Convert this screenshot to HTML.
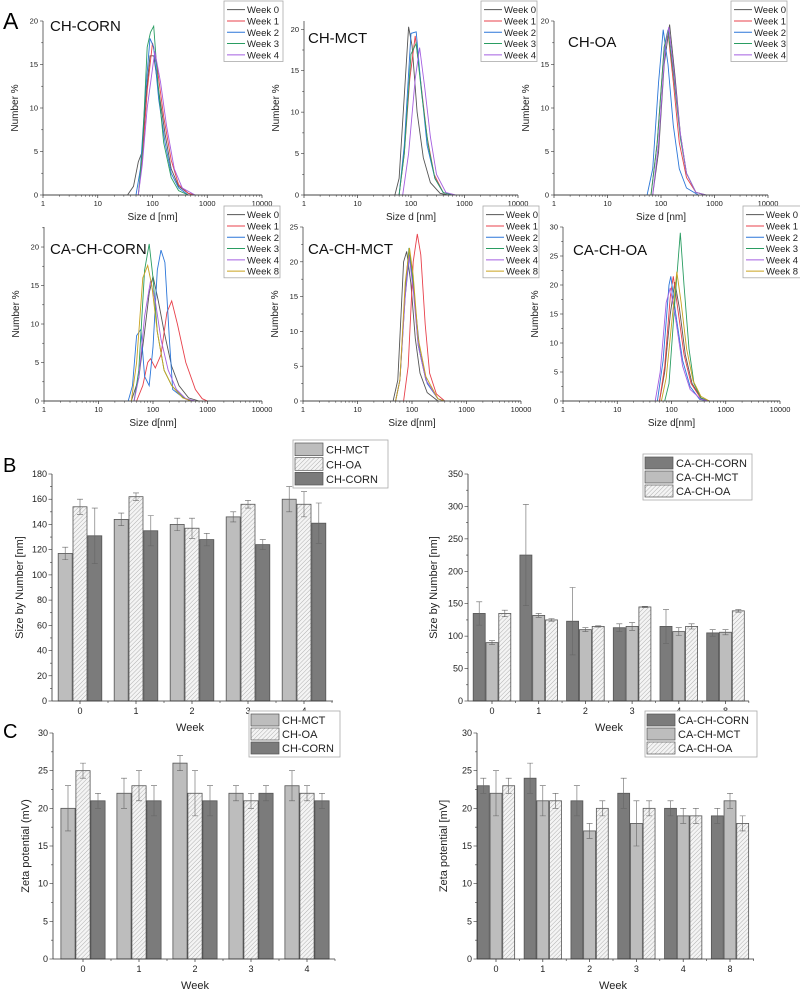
<!DOCTYPE html>
<html><head><meta charset="utf-8"><style>
body{margin:0;background:#fff}
svg{display:block;font-family:"Liberation Sans",sans-serif}
</style></head><body>
<svg id="fig" width="800" height="994" viewBox="0 0 800 994" xmlns="http://www.w3.org/2000/svg">
<defs>
<pattern id="hatch" patternUnits="userSpaceOnUse" width="3" height="3" patternTransform="rotate(45)">
<rect width="3" height="3" fill="#f4f4f4"/><line x1="0" y1="0" x2="0" y2="3" stroke="#b0b0b0" stroke-width="1"/>
</pattern>
</defs>
<text x="3" y="29" font-size="23">A</text>
<text x="3" y="472" font-size="20">B</text>
<text x="3" y="738" font-size="20">C</text>
<g id="root"></g>
</svg>
<script>
// ---------- Distribution data (size d [nm], number %) ----------
const weeksTop = ["Week 0","Week 1","Week 2","Week 3","Week 4"];
const weeksBottom = ["Week 0","Week 1","Week 2","Week 3","Week 4","Week 8"];
const chCorn = [
 [[35,0],[45,1],[55,3.8],[65,5],[75,11],[90,16],[105,16],[130,12],[170,7],[220,3],[300,1],[450,0.2],[600,0]],
 [[55,0],[65,4],[80,12],[100,17.5],[120,15],[160,9],[220,4],[300,1.2],[450,0.2],[600,0]],
 [[50,0],[60,3],[75,12],[90,18],[105,17],[130,11],[170,6],[220,2.5],[300,0.8],[450,0]],
 [[55,0],[65,5],[80,17],[92,18.7],[105,19.4],[125,13],[160,6],[220,2],[300,0.5],[450,0]],
 [[55,0],[65,3.5],[80,10],[110,16.5],[140,13],[180,8],[250,3],[350,0.8],[600,0]]];
const chMct = [
 [[50,0],[60,2],[75,12],[90,20.3],[105,18],[130,10],[170,4.5],[230,1.5],[350,0.2],[500,0]],
 [[60,0],[75,5],[95,14],[120,19.2],[150,14],[200,7],[270,2.5],[400,0.3],[600,0]],
 [[60,0],[75,6],[100,19.5],[125,19.7],[150,14],[200,6],[280,2],[400,0.3],[600,0]],
 [[60,0],[75,5],[100,17],[125,18.3],[160,12],[210,6],[280,2],[400,0.3],[600,0]],
 [[70,0],[90,5],[120,14],[145,17.8],[180,13],[230,7],[300,2.5],[450,0.3],[700,0]]];
const chOa = [
 [[70,0],[90,5],[115,15],[145,19.6],[180,14],[230,7],[300,2.5],[450,0.3],[700,0]],
 [[65,0],[85,6],[115,17],[135,18.7],[170,13],[220,6],[300,2],[450,0.3],[700,0]],
 [[55,0],[70,3],[90,13],[110,19],[135,15],[170,8],[220,3],[300,0.8],[500,0]],
 [[65,0],[85,6],[115,17],[135,19],[170,14],[230,6.5],[300,2.5],[450,0.3],[700,0]],
 [[70,0],[90,6],[120,17],[140,19.3],[175,14],[230,7],[300,2.5],[450,0.3],[700,0]]];
const caCorn = [
 [[40,0],[55,3],[70,9],[85,14],[100,16.2],[125,13],[160,9],[220,4.5],[300,2],[450,0.4],[700,0]],
 [[50,0],[65,2],[80,5],[90,5.5],[110,4.3],[140,6],[180,11.5],[220,13],[280,10],[400,5],[600,1.5],[800,0.3],[1000,0]],
 [[35,0],[42,2],[50,8.5],[60,9.3],[70,3.2],[85,2],[100,7],[120,17],[140,19.6],[165,18],[200,8],[230,1.5],[350,0.5],[500,0]],
 [[45,0],[55,4],[70,17],[85,20.4],[100,16],[120,9],[160,4],[220,2],[350,0.5],[500,0]],
 [[45,0],[55,3],[70,11],[90,15.6],[110,13],[140,8],[190,4],[270,1.5],[400,0.3],[600,0]],
 [[40,0],[50,5],[65,16],[80,17.6],[95,15],[120,9],[160,4],[220,2],[350,0.4],[500,0]]];
const caMct = [
 [[45,0],[55,3],[70,20],[80,21.5],[95,17],[115,9],[140,4],[190,1.2],[300,0]],
 [[70,0],[85,5],[105,20],[125,24],[145,21],[175,11],[210,4],[280,1],[400,0]],
 [[50,0],[60,3],[75,15],[90,21],[110,15],[140,7],[190,2.5],[300,0.3],[400,0]],
 [[50,0],[60,3],[75,16],[88,22],[105,17],[130,8],[180,3],[300,0.3],[400,0]],
 [[50,0],[60,3],[75,15],[88,21],[105,16],[130,8],[180,3],[300,0.3],[400,0]],
 [[50,0],[60,3],[75,17],[90,22],[105,18],[130,9],[180,3.5],[300,0.3],[400,0]]];
const caOa = [
 [[60,0],[75,5],[95,15],[115,20.5],[140,16],[180,8],[240,3],[350,0.5],[500,0]],
 [[60,0],[75,6],[95,18],[108,21.5],[130,16],[170,8],[230,3],[350,0.4],[500,0]],
 [[55,0],[70,7],[90,20],[97,21.5],[120,15],[160,7],[220,2.5],[330,0.3],[500,0]],
 [[75,0],[90,3],[115,17],[145,29],[170,20],[210,9],[260,3],[350,0.5],[500,0]],
 [[50,0],[62,5],[80,17],[95,19.5],[120,14],[160,6],[220,2],[350,0.3],[500,0]],
 [[65,0],[80,4],[105,15],[125,22.3],[150,17],[190,9],[250,3.5],[350,0.8],[500,0]]];
const xTickLabels = ["1","10","100","1000","10000"];

// ---------- Bar data ----------
const weeksB1 = ["0","1","2","3","4"];
const weeksB2 = ["0","1","2","3","4","8"];
const sizeChMct = [117,144,140,146,160], sizeChMctErr = [5,5,5,4,10];
const sizeChOa = [154,162,137,156,156], sizeChOaErr = [6,3,8,3,10];
const sizeChCorn = [131,135,128,124,141], sizeChCornErr = [22,12,5,4,16];
const sizeCaCorn = [135,225,123,113,115,105], sizeCaCornErr = [18,78,52,6,26,5];
const sizeCaMct = [90,132,110,115,107,106], sizeCaMctErr = [3,3,3,6,6,4];
const sizeCaOa = [135,125,115,145,115,139], sizeCaOaErr = [5,2,1,1,4,2];
const zetaChMct = [20,22,26,22,23], zetaChMctErr = [3,2,1,1,2];
const zetaChOa = [25,23,22,21,22], zetaChOaErr = [1,2,3,1,1];
const zetaChCorn = [21,21,21,22,21], zetaChCornErr = [1,2,2,1,1];
const zetaCaCorn = [23,24,21,22,20,19], zetaCaCornErr = [1,2,2,2,1,1];
const zetaCaMct = [22,21,17,18,19,21], zetaCaMctErr = [3,2,1,3,1,1];
const zetaCaOa = [23,21,20,20,19,18], zetaCaOaErr = [1,1,1,1,1,1];

const NS="http://www.w3.org/2000/svg";
const root=document.getElementById('root');
function mk(tag,attrs,parent,txt){const e=document.createElementNS(NS,tag);for(const k in attrs)e.setAttribute(k,attrs[k]);if(txt!==undefined)e.textContent=txt;(parent||root).appendChild(e);return e;}
const colors=["#555555","#e8414b","#2b76d9","#2a9d62","#a55fe0","#c9a21f"];

function distPanel(o){
  const g=mk('g',{});
  
  
  const xs=v=>o.x0+(o.x1-o.x0)*Math.log10(v)/4;
  const ys=v=>o.y0-(o.y0-o.yTop)*v/o.yMax;
  // series
  o.data.forEach((s,i)=>{
    const p=mk('polyline',{points:s.map(q=>xs(q[0]).toFixed(1)+','+ys(q[1]).toFixed(1)).join(' '),fill:'none',stroke:colors[i],'stroke-width':0.9},g);
    
    
  });
  // axes
  mk('line',{x1:o.x0,y1:o.y0,x2:o.x1,y2:o.y0,stroke:'#444','stroke-width':0.9},g);
  mk('line',{x1:o.x0,y1:o.y0,x2:o.x0,y2:o.yTop,stroke:'#444','stroke-width':0.8},g);
  for(let d=0;d<=4;d++){
    const x=o.x0+(o.x1-o.x0)*d/4;
    mk('line',{x1:x,y1:o.y0,x2:x,y2:o.y0+3,stroke:'#333','stroke-width':0.7},g);
    const t=mk('text',{x:x,y:o.y0+11,'font-size':7.5,'text-anchor':'middle',fill:'#222'},g,xTickLabels[d]);
    
    
    if(d<4)for(let m=2;m<=9;m++){const xm=xs(Math.pow(10,d)*m);mk('line',{x1:xm,y1:o.y0,x2:xm,y2:o.y0+1.8,stroke:'#333','stroke-width':0.5},g);}
  }
  for(let v=0;v<=o.yMax+0.01;v+=2.5){
    const y=ys(v);const major=Math.abs(v%5)<0.01;
    mk('line',{x1:o.x0,y1:y,x2:o.x0-(major?3:1.8),y2:y,stroke:'#333','stroke-width':0.6},g);
    if(major){const t=mk('text',{x:o.x0-5,y:y+2.5,'font-size':7.5,'text-anchor':'end',fill:'#222'},g,String(v));
      
      }
  }
  const xt=mk('text',{x:(o.x0+o.x1)/2,y:o.y0+25,'font-size':10,'text-anchor':'middle',fill:'#222'},g,o.xlabel);
  
  
  const yc=(o.y0+o.yTop)/2;
  const yt=mk('text',{x:o.x0-25,y:yc,'font-size':10,'text-anchor':'middle',fill:'#222',transform:`rotate(-90 ${o.x0-25} ${yc})`},g,'Number %');
  
  
  const tt=mk('text',{x:o.tx,y:o.ty,'font-size':15,fill:'#111'},g,o.title);
  
  
  // legend
  const rows=o.labels.length, lh=11.3;
  const lg=mk('g',{},g);
  
  
  mk('rect',{x:o.lx,y:o.ly,width:o.lw,height:rows*lh+4,fill:'#fff',stroke:'#aaa','stroke-width':0.8},lg);
  o.labels.forEach((l,i)=>{
    const y=o.ly+4+lh*i+lh/2-1;
    mk('line',{x1:o.lx+3,y1:y,x2:o.lx+21,y2:y,stroke:colors[i],'stroke-width':1},lg);
    const t=mk('text',{x:o.lx+23,y:y+3.5,'font-size':9.5,fill:'#222'},lg,l);
    
    
  });
}

distPanel({name:'ch-corn-distribution',x0:43,x1:262,y0:195,yTop:21,yMax:20,data:chCorn,labels:weeksTop,title:'CH-CORN',tx:50,ty:31,xlabel:'Size d [nm]',lx:224,ly:1,lw:59});
distPanel({name:'ch-mct-distribution',x0:304,x1:518,y0:195,yTop:21,yMax:21,data:chMct,labels:weeksTop,title:'CH-MCT',tx:308,ty:43,xlabel:'Size d [nm]',lx:481,ly:1,lw:56});
distPanel({name:'ch-oa-distribution',x0:554,x1:768,y0:195,yTop:21,yMax:20,data:chOa,labels:weeksTop,title:'CH-OA',tx:568,ty:47,xlabel:'Size d [nm]',lx:731,ly:1,lw:56});
distPanel({name:'ca-ch-corn-distribution',x0:44,x1:262,y0:401,yTop:227,yMax:22.6,data:caCorn,labels:weeksBottom,title:'CA-CH-CORN',tx:50,ty:254,xlabel:'Size d[nm]',lx:224,ly:206,lw:56});
distPanel({name:'ca-ch-mct-distribution',x0:303,x1:521,y0:401,yTop:227,yMax:25,data:caMct,labels:weeksBottom,title:'CA-CH-MCT',tx:308,ty:254,xlabel:'Size d[nm]',lx:483,ly:206,lw:56});
distPanel({name:'ca-ch-oa-distribution',x0:563,x1:780,y0:401,yTop:227,yMax:30,data:caOa,labels:weeksBottom,title:'CA-CH-OA',tx:573,ty:255,xlabel:'Size d[nm]',lx:743,ly:206,lw:60});

const fills={light:'#bdbdbd',dark:'#7b7b7b',hatch:'url(#hatch)'};
function barPanel(o){
  const g=mk('g',{});
  
  
  const ys=v=>o.y0-(o.y0-o.yTop)*v/o.yMax;
  const n=o.cats.length, ns=o.series.length;
  const cx=i=>o.c0+o.step*i;
  o.series.forEach((s,si)=>{
    s.vals.forEach((v,i)=>{
      const x=cx(i)+(si-(ns-1)/2)*o.bw-o.bw/2;
      const r=mk('rect',{x:x+0.4,y:ys(v),width:o.bw-0.8,height:o.y0-ys(v),fill:fills[s.fill],stroke:'#555','stroke-width':0.8},g);
      
      
      const xc=x+o.bw/2, e=s.err[i];
      const eb=mk('path',{d:`M${xc},${ys(v+e)}V${ys(v-e)}M${xc-3},${ys(v+e)}H${xc+3}M${xc-3},${ys(v-e)}H${xc+3}`,stroke:'#666','stroke-width':0.6,fill:'none'},g);
      
      
    });
  });
  mk('line',{x1:o.x0,y1:o.y0,x2:o.x1,y2:o.y0,stroke:'#333','stroke-width':0.8},g);
  mk('line',{x1:o.x0,y1:o.y0,x2:o.x0,y2:o.yTop,stroke:'#333','stroke-width':0.8},g);
  for(let i=0;i<n;i++){
    mk('line',{x1:cx(i),y1:o.y0,x2:cx(i),y2:o.y0+3,stroke:'#333','stroke-width':0.7},g);
    mk('line',{x1:cx(i)+o.step/2,y1:o.y0,x2:cx(i)+o.step/2,y2:o.y0+2,stroke:'#333','stroke-width':0.6},g);
    const t=mk('text',{x:cx(i),y:o.y0+13,'font-size':9,'text-anchor':'middle',fill:'#222'},g,o.cats[i]);
    
    
  }
  for(let v=0;v<=o.yMax+0.01;v+=o.minor){
    const y=ys(v);const major=Math.abs((v/o.major)-Math.round(v/o.major))<0.01;
    mk('line',{x1:o.x0,y1:y,x2:o.x0-(major?3.5:2),y2:y,stroke:'#333','stroke-width':0.6},g);
    if(major){const t=mk('text',{x:o.x0-5,y:y+3,'font-size':9,'text-anchor':'end',fill:'#222'},g,String(v));
      
      }
  }
  const xt=mk('text',{x:o.wx,y:o.y0+30,'font-size':11,'text-anchor':'middle',fill:'#222'},g,'Week');
  
  
  const yc=(o.y0+o.yTop)/2;
  const yt=mk('text',{x:o.ylx,y:yc,'font-size':11,'text-anchor':'middle',fill:'#222',transform:`rotate(-90 ${o.ylx} ${yc})`},g,o.ylabel);
  
  
  const lg=mk('g',{},g);
  
  
  const lh=(o.lh-4)/ns;
  mk('rect',{x:o.lx,y:o.ly,width:o.lw,height:o.lh,fill:'#fff',stroke:'#aaa','stroke-width':0.8},lg);
  o.series.forEach((s,i)=>{
    const y=o.ly+2+lh*i;
    mk('rect',{x:o.lx+2,y:y+1,width:28,height:lh-2,fill:fills[s.fill],stroke:'#555','stroke-width':0.7},lg);
    const t=mk('text',{x:o.lx+33,y:y+lh-3,'font-size':11,fill:'#222'},lg,s.label);
    
    
  });
}

barPanel({name:'size-ch-bar-chart',cats:weeksB1,x0:52,x1:333,c0:80,step:56,bw:14.8,y0:701,yTop:474,yMax:180,major:20,minor:10,ylabel:'Size by Number [nm]',ylx:23,wx:190,
  series:[{label:'CH-MCT',fill:'light',vals:sizeChMct,err:sizeChMctErr},{label:'CH-OA',fill:'hatch',vals:sizeChOa,err:sizeChOaErr},{label:'CH-CORN',fill:'dark',vals:sizeChCorn,err:sizeChCornErr}],
  lx:293,ly:440,lw:95,lh:48});
barPanel({name:'size-ca-ch-bar-chart',cats:weeksB2,x0:468,x1:749,c0:492,step:46.7,bw:12.8,y0:701,yTop:474,yMax:350,major:50,minor:25,ylabel:'Size by Number [nm]',ylx:437,wx:609,
  series:[{label:'CA-CH-CORN',fill:'dark',vals:sizeCaCorn,err:sizeCaCornErr},{label:'CA-CH-MCT',fill:'light',vals:sizeCaMct,err:sizeCaMctErr},{label:'CA-CH-OA',fill:'hatch',vals:sizeCaOa,err:sizeCaOaErr}],
  lx:643,ly:454,lw:109,lh:46});
barPanel({name:'zeta-ch-bar-chart',cats:weeksB1,x0:53,x1:335,c0:83,step:56,bw:15,y0:959,yTop:733,yMax:30,major:5,minor:2.5,ylabel:'Zeta potential (mV)',ylx:29,wx:195,
  series:[{label:'CH-MCT',fill:'light',vals:zetaChMct,err:zetaChMctErr},{label:'CH-OA',fill:'hatch',vals:zetaChOa,err:zetaChOaErr},{label:'CH-CORN',fill:'dark',vals:zetaChCorn,err:zetaChCornErr}],
  lx:249,ly:711,lw:91,lh:46});
barPanel({name:'zeta-ca-ch-bar-chart',cats:weeksB2,x0:477,x1:754,c0:496,step:46.8,bw:12.7,y0:959,yTop:733,yMax:30,major:5,minor:2.5,ylabel:'Zeta potential [mV]',ylx:447,wx:613,
  series:[{label:'CA-CH-CORN',fill:'dark',vals:zetaCaCorn,err:zetaCaCornErr},{label:'CA-CH-MCT',fill:'light',vals:zetaCaMct,err:zetaCaMctErr},{label:'CA-CH-OA',fill:'hatch',vals:zetaCaOa,err:zetaCaOaErr}],
  lx:645,ly:711,lw:112,lh:46});
</script>
</body></html>
